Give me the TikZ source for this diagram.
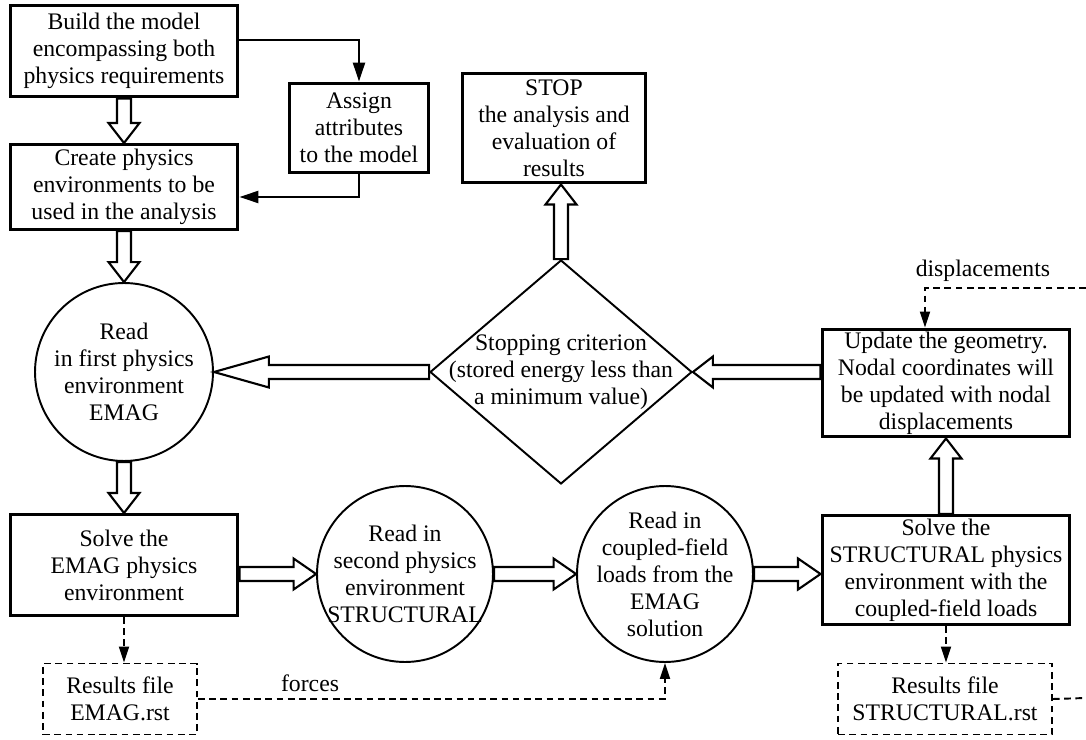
\documentclass[tikz,border=0pt]{standalone}
\usepackage{fontspec}
\setmainfont{Liberation Serif}
\usetikzlibrary{arrows.meta,shapes.geometric,calc}

\tikzset{
  every node/.style={font=\fontsize{13.5}{15.4}\selectfont, align=center},
  box/.style={draw, line width=1.7pt, inner sep=1pt},
  filebox/.style={draw, line width=1.1pt, dash pattern=on 3.8pt off 2.6pt, inner sep=1pt},
  readcirc/.style={draw, circle, line width=1.1pt, inner sep=-0.3cm},
  testdiamond/.style={draw, diamond, line width=1.1pt, inner xsep=-1.2cm, inner ysep=-0.4cm},
  fatline/.style={draw, line width=1.2pt, fill=white, line join=miter},
  thinarrow/.style={line width=1.4pt, -{Triangle[length=0.38cm,width=0.24cm]}},
  dasharrow/.style={line width=1.1pt, dash pattern=on 3.8pt off 2.6pt, -{Triangle[length=0.32cm,width=0.2cm]}},
  dashline/.style={line width=1.1pt, dash pattern=on 3.8pt off 2.6pt},
}

% hollow block arrow from #2 to #3, head length #1
\newcommand{\fatarrow}[3][0.4cm]{%
  \draw[fatline] let \p1=(#2), \p2=(#3), \n1={atan2(\y2-\y1,\x2-\x1)}, \n2={veclen(\x2-\x1,\y2-\y1)} in
    [shift={(\p1)}, rotate=\n1]
    (0pt,0.14cm) -- ({\n2-#1},0.14cm) -- ({\n2-#1},0.31cm) -- (\n2,0pt)
    -- ({\n2-#1},-0.31cm) -- ({\n2-#1},-0.14cm) -- (0pt,-0.14cm) -- cycle;}

\begin{document}
\begin{tikzpicture}[x=0.02cm, y=-0.02cm]
\useasboundingbox (0,0) rectangle (1086,740);

\node[box, minimum width=4.56cm, minimum height=1.84cm] (build) at (124,51) {Build the model\\encompassing both\\physics requirements};
\node[box, minimum width=2.78cm, minimum height=1.8cm] (assign) at (359,128) {Assign\\attributes\\to the model};
\node[box, minimum width=4.56cm, minimum height=1.7cm] (create) at (124,187) {Create physics\\environments to be\\used in the analysis};
\node[box, minimum width=3.68cm, minimum height=2.2cm] (stop) at (554,128) {STOP\\the analysis and\\evaluation of\\results};
\node[testdiamond, minimum width=5.24cm, minimum height=4.48cm] (crit) at (561,372) {Stopping criterion\\(stored energy less than\\a minimum value)};
\node[readcirc, minimum size=3.56cm] (emag) at (124,372) {Read\\in first physics\\environment\\EMAG};
\node[box, minimum width=4.96cm, minimum height=2.16cm] (update) at (946,383) {Update the geometry.\\Nodal coordinates will\\be updated with nodal\\displacements};
\node[box, minimum width=4.56cm, minimum height=2.02cm] (solveE) at (124,565) {Solve the\\EMAG physics\\environment};
\node[readcirc, minimum size=3.52cm] (second) at (405,574) {Read in\\second physics\\environment\\STRUCTURAL};
\node[readcirc, minimum size=3.52cm] (coupled) at (665,574) {Read in\\coupled-field\\loads from the\\EMAG\\solution};
\node[box, minimum width=4.96cm, minimum height=2.18cm] (solveS) at (946,570) {Solve the\\STRUCTURAL physics\\environment with the\\coupled-field loads};
\node[filebox, minimum width=3.08cm, minimum height=1.42cm] (emagrst) at (120,699) {Results file\\EMAG.rst};
\node[filebox, minimum width=4.28cm, minimum height=1.42cm] (structrst) at (945,699) {Results file\\STRUCTURAL.rst};

\coordinate (dispend) at (1086,288);
\coordinate (rstend) at (1086,698);

\draw[thinarrow] ([yshift=0.22cm]build.east) -| (assign.north);
\draw[thinarrow] (assign.south) |- ([yshift=-0.2cm]create.east);

\fatarrow{build.south}{create.north}
\fatarrow{create.south}{emag.north}
\fatarrow{emag.south}{solveE.north}
\fatarrow[0.45cm]{solveE.east |- second.west}{second.west}
\fatarrow[0.45cm]{second.east}{coupled.west}
\fatarrow[0.45cm]{coupled.east}{coupled.east -| solveS.west}
\fatarrow{solveS.north}{update.south}
\fatarrow{update.west |- crit.east}{crit.east}
\fatarrow[1.1cm]{crit.west}{emag.east}
\fatarrow{crit.north}{crit.north |- stop.south}

\draw[dasharrow] (solveE.south) -- (solveE.south |- emagrst.north);
\draw[dasharrow] (emagrst.east) -| node[pos=0.12, above] {forces} (coupled.south);
\draw[dasharrow] (solveS.south) -- (solveS.south |- structrst.north);
\draw[dashline] (structrst.east) -- (rstend);
\draw[dasharrow] (dispend) -| node[pos=0.32, above] {displacements} ([xshift=-0.42cm]update.north);
\end{tikzpicture}
\end{document}
